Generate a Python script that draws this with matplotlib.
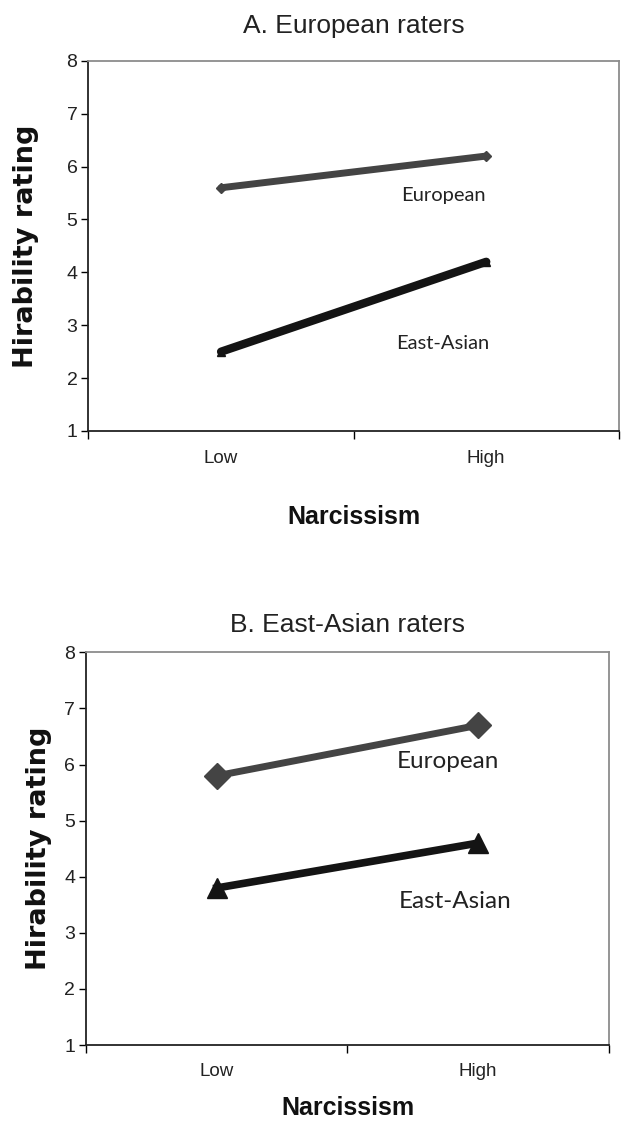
import matplotlib
matplotlib.use("Agg")
import matplotlib.pyplot as plt

# ratings at low / high narcissism, by target group
levels = ["Low", "High"]
eu_raters_european = [5.6, 6.2]
eu_raters_eastasian = [2.5, 4.2]
ea_raters_european = [5.8, 6.7]
ea_raters_eastasian = [3.8, 4.6]
titles = ["A. European raters", "B. East-Asian raters"]

sans = ["Liberation Sans", "DejaVu Sans"]
label_font = ["Lato", "DejaVu Sans"]

fig = plt.figure(figsize=(6.21, 11.25), dpi=100)
ax_a = fig.add_axes([0.1425, 0.6169, 0.854, 0.329])
ax_b = fig.add_axes([0.139, 0.0711, 0.841, 0.349])

x = [0.5, 1.5]


def style_axis(ax, title, title_pad, cat_pad, ylab_x, xlab_y):
    ax.set_xlim(0, 2)
    ax.set_ylim(1, 8)
    ax.set_yticks(range(1, 9))
    ax.set_xticks([0, 1, 2])
    ax.set_xticklabels([])
    ax.set_xticks(x, minor=True)
    ax.set_xticklabels(levels, minor=True, family=sans, fontsize=13.5,
                       color="#222222")
    ax.tick_params(axis="x", which="minor", length=0, pad=cat_pad)
    ax.tick_params(axis="x", which="major", length=6, width=1, direction="out")
    ax.tick_params(axis="y", length=5, width=1, direction="out", labelsize=14,
                   labelcolor="#222222", pad=3)
    for t in ax.get_yticklabels():
        t.set_family(sans)
    for side in ("top", "right"):
        ax.spines[side].set_color("#8c8c8c")
        ax.spines[side].set_linewidth(1.3)
    for side in ("left", "bottom"):
        ax.spines[side].set_color("#222222")
        ax.spines[side].set_linewidth(1.3)
    ax.set_title(title, family=sans, fontsize=19, pad=title_pad, color="#222222")
    ax.set_ylabel("Hirability rating", family=["DejaVu Sans"], fontweight="bold",
                  fontsize=19.5, color="#111111")
    ax.yaxis.set_label_coords(ylab_x, 0.5)
    ax.set_xlabel("Narcissism", family=sans, fontweight="bold", fontsize=18,
                  color="#111111")
    ax.xaxis.set_label_coords(0.5, xlab_y)
    ax.xaxis.label.set_va("center")
    ax.yaxis.label.set_va("center")


# panel A
ax_a.plot(x, eu_raters_european, color="#444444", lw=5, marker="D", ms=5,
          solid_capstyle="round", clip_on=False)
ax_a.plot(x, eu_raters_eastasian, color="#141414", lw=6, marker="^", ms=6,
          solid_capstyle="round", clip_on=False)
ax_a.text(1.5, 5.46, "European", ha="right", va="center", family=label_font,
          fontsize=14.5, color="#222222")
ax_a.text(1.51, 2.66, "East-Asian", ha="right", va="center", family=label_font,
          fontsize=14.5, color="#222222")
style_axis(ax_a, titles[0], 20, 14, -0.118, -0.232)

# panel B
ax_b.plot(x, ea_raters_european, color="#444444", lw=5, marker="D", ms=13,
          clip_on=False)
ax_b.plot(x, ea_raters_eastasian, color="#141414", lw=5.5, marker="^", ms=14,
          clip_on=False)
ax_b.text(1.58, 6.06, "European", ha="right", va="center", family=label_font,
          fontsize=17.5, color="#222222")
ax_b.text(1.63, 3.55, "East-Asian", ha="right", va="center", family=label_font,
          fontsize=17.5, color="#222222")
style_axis(ax_b, titles[1], 15, 13, -0.091, -0.160)

fig.savefig("out.png", dpi=100)
